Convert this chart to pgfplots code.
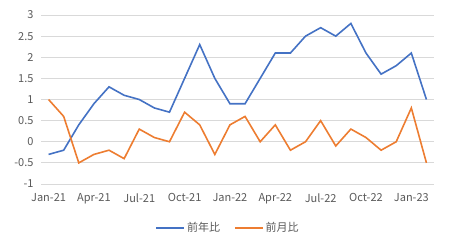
\documentclass[border=0pt]{standalone}
\usepackage{pgfplots}
\pgfplotsset{compat=1.18}
\usepackage{fontspec}
\setmainfont{Noto Sans CJK JP}
\definecolor{cblue}{HTML}{4472C4}
\definecolor{corange}{HTML}{ED7D31}
\definecolor{cgrid}{HTML}{D9D9D9}
\definecolor{ctext}{HTML}{595959}
\begin{document}
\begin{tikzpicture}
\path[use as bounding box] (0,0) rectangle (450pt,250pt);
\begin{axis}[
  at={(41pt,66pt)}, anchor=south west,
  scale only axis, width=393pt, height=169pt,
  xmin=-0.5, xmax=25.5, ymin=-1, ymax=3,
  ytick={-1,-0.5,0,0.5,1,1.5,2,2.5,3},
  yticklabels={-1,-0.5,0,0.5,1,1.5,2,2.5,3},
  xtick={0,3,6,9,12,15,18,21,24},
  xticklabels={Jan-21,Apr-21,Jul-21,Oct-21,Jan-22,Apr-22,Jul-22,Oct-22,Jan-23},
  axis line style={draw=none},
  major tick length=0pt,
  ymajorgrids, grid style={cgrid, line width=1pt},
  tick label style={font=\fontsize{11}{12}\selectfont, text=ctext},
  yticklabel style={xshift=-4pt},
  xticklabel style={yshift=-6pt},
  legend columns=2,
  legend style={at={(0.476,-0.26)}, anchor=center, draw=none, fill=none,
    font=\fontsize{11}{13}\selectfont, text=ctext,
    /tikz/every even column/.append style={column sep=12pt}},
  legend image code/.code={\draw[#1] (0pt,0pt) -- (28pt,0pt);},
  clip=false,
]
\addplot[cblue, line width=1.6pt] coordinates {
(0,-0.3) (1,-0.2) (2,0.4) (3,0.9) (4,1.3) (5,1.1) (6,1.0) (7,0.8) (8,0.7) (9,1.5)
(10,2.3) (11,1.5) (12,0.9) (13,0.9) (14,1.5) (15,2.1) (16,2.1) (17,2.5) (18,2.7) (19,2.5)
(20,2.8) (21,2.1) (22,1.6) (23,1.8) (24,2.1) (25,1.0)};
\addlegendentry{前年比}
\addplot[corange, line width=1.6pt] coordinates {
(0,1.0) (1,0.6) (2,-0.5) (3,-0.3) (4,-0.2) (5,-0.4) (6,0.3) (7,0.1) (8,0.0) (9,0.7)
(10,0.4) (11,-0.3) (12,0.4) (13,0.6) (14,0.0) (15,0.4) (16,-0.2) (17,0.0) (18,0.5) (19,-0.1)
(20,0.3) (21,0.1) (22,-0.2) (23,0.0) (24,0.8) (25,-0.5)};
\addlegendentry{前月比}
\end{axis}
\end{tikzpicture}
\end{document}
